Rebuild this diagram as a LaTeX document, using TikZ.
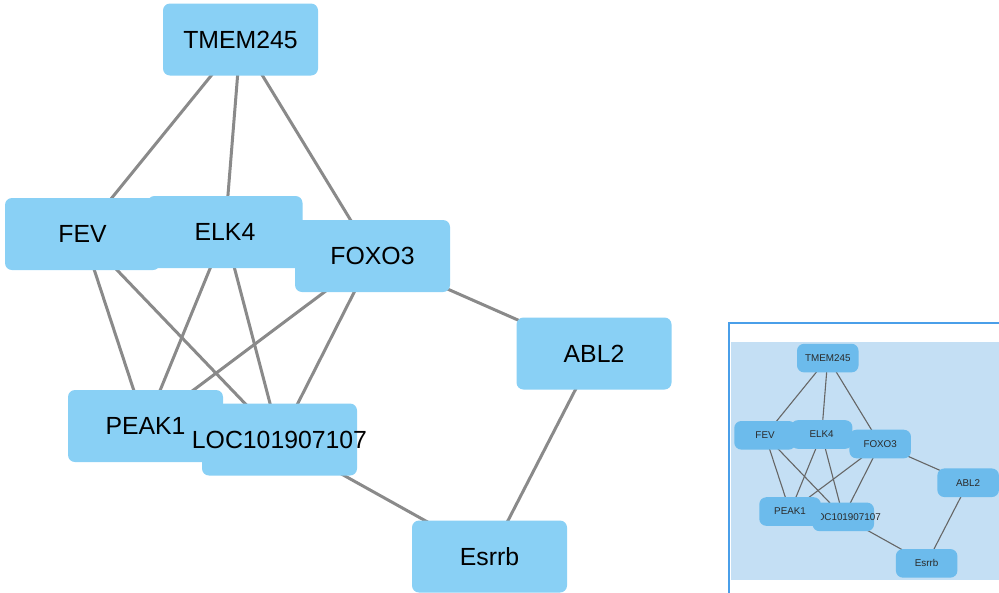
\documentclass[tikz,border=0pt]{standalone}
\usepackage{fontspec}
\setmainfont{Liberation Sans}
\definecolor{nodeblue}{HTML}{89D0F5}
\definecolor{edgegray}{HTML}{8A8A8A}
\definecolor{mininode}{HTML}{6CBBEC}
\definecolor{miniedge}{HTML}{666666}
\definecolor{minibg}{HTML}{C4DFF4}
\definecolor{frameblue}{HTML}{4A9FE9}
\definecolor{minitext}{HTML}{2A2A2A}
\pgfdeclarelayer{bg}
\pgfdeclarelayer{edges}
\pgfsetlayers{bg,edges,main}
\begin{document}
\begin{tikzpicture}[x=1pt,y=-1pt,
  gene/.style={draw=none, fill=nodeblue, rounded corners=7pt, minimum width=155pt,
    minimum height=72pt, inner sep=0pt, font=\fontsize{24.8}{28}\selectfont, text=black},
  link/.style={draw=edgegray, line width=3pt},
  mgene/.style={gene, fill=mininode, text=minitext},
  mlink/.style={draw=miniedge, line width=1.1pt}]
\useasboundingbox (0,0) rectangle (999,592);
% main graph
\node[gene] (tmem) at (240.5,39.5) {TMEM245};
\node[gene] (fev) at (82.5,234) {FEV};
\node[gene] (elk) at (225,232) {ELK4};
\node[gene] (foxo) at (372.5,256) {FOXO3};
\node[gene] (abl) at (594,353.5) {ABL2};
\node[gene] (esrrb) at (489.5,556.5) {Esrrb};
\node[gene] (peak) at (145.5,426) {PEAK1};
\node[gene] (loc) at (279.5,439.5) {\makebox[0pt]{LOC101907107}};
\begin{pgfonlayer}{edges}
\draw[link] (tmem.center) -- (fev.center);
\draw[link] (tmem.center) -- (elk.center);
\draw[link] (tmem.center) -- (foxo.center);
\draw[link] (fev.center) -- (peak.center);
\draw[link] (fev.center) -- (loc.center);
\draw[link] (elk.center) -- (peak.center);
\draw[link] (elk.center) -- (loc.center);
\draw[link] (foxo.center) -- (peak.center);
\draw[link] (foxo.center) -- (loc.center);
\draw[link] (foxo.center) -- (abl.center);
\draw[link] (abl.center) -- (esrrb.center);
\draw[link] (loc.center) -- (esrrb.center);
\end{pgfonlayer}
% minimap
\begin{pgfonlayer}{bg}
\fill[white] (729,323) rectangle (1005,600);
\fill[minibg] (731,342) rectangle (1005,580);
\draw[frameblue, line width=2pt] (729,600) -- (729,323) -- (1005,323);
\end{pgfonlayer}
\begin{scope}[shift={(732.3,342.4)}, scale=0.397, transform shape]
\node[mgene] (mtmem) at (240.5,39.5) {TMEM245};
\node[mgene] (mfev) at (82.5,234) {FEV};
\node[mgene] (melk) at (225,232) {ELK4};
\node[mgene] (mfoxo) at (372.5,256) {FOXO3};
\node[mgene] (mabl) at (594,353.5) {ABL2};
\node[mgene] (mesrrb) at (489.5,556.5) {Esrrb};
\node[mgene] (mloc) at (279.5,439.5) {\makebox[0pt]{\hspace*{14pt}LOC101907107}};
\node[mgene] (mpeak) at (145.5,426) {PEAK1};
\begin{pgfonlayer}{edges}
\draw[mlink] (mtmem.center) -- (mfev.center);
\draw[mlink] (mtmem.center) -- (melk.center);
\draw[mlink] (mtmem.center) -- (mfoxo.center);
\draw[mlink] (mfev.center) -- (mpeak.center);
\draw[mlink] (mfev.center) -- (mloc.center);
\draw[mlink] (melk.center) -- (mpeak.center);
\draw[mlink] (melk.center) -- (mloc.center);
\draw[mlink] (mfoxo.center) -- (mpeak.center);
\draw[mlink] (mfoxo.center) -- (mloc.center);
\draw[mlink] (mfoxo.center) -- (mabl.center);
\draw[mlink] (mabl.center) -- (mesrrb.center);
\draw[mlink] (mloc.center) -- (mesrrb.center);
\end{pgfonlayer}
\end{scope}
\end{tikzpicture}
\end{document}
